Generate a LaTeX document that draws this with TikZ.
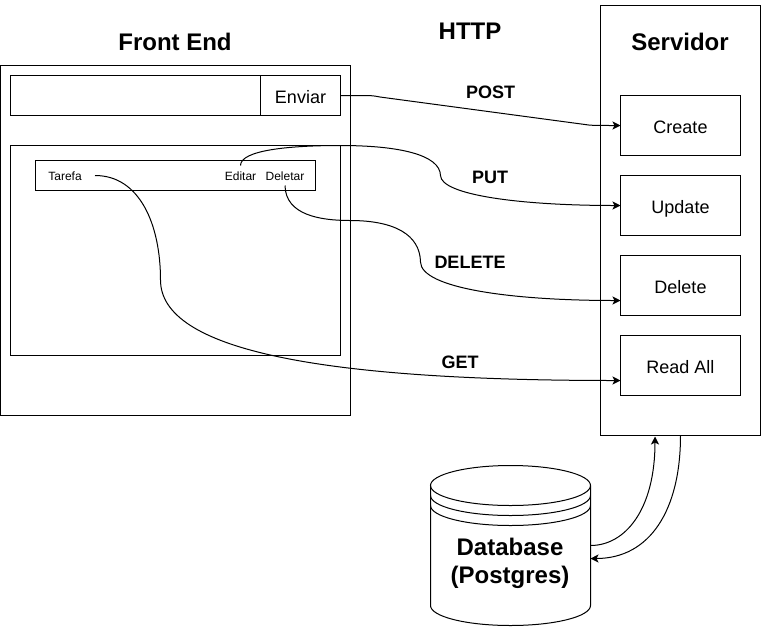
\documentclass[tikz,border=0pt]{standalone}
\usepackage{fontspec}
\setmainfont{Liberation Sans}
\usetikzlibrary{arrows.meta}
\tikzset{
  box/.style={draw=black,inner sep=0pt,outer sep=0pt},
  label13/.style={font=\fontsize{13.5}{16}\selectfont,text height=12pt,text depth=0pt},
  opbox/.style={box,label13,minimum width=90pt,minimum height=45pt},
  small/.style={inner sep=0pt,outer sep=0pt,minimum width=45pt,minimum height=15pt,text height=8pt,text depth=0pt,font=\fontsize{9}{11}\selectfont},
  title/.style={font=\bfseries\fontsize{18}{21}\selectfont,align=center},
  verb/.style={font=\bfseries\fontsize{13.5}{16}\selectfont},
  link/.style={-{Stealth[length=6pt,width=6pt,inset=1.5pt]},black}
}
\begin{document}
\begin{tikzpicture}[x=0.75pt,y=-0.75pt,line width=0.75pt]
\useasboundingbox (0,0) rectangle (761,626);
% front end
\node[box,minimum width=262.5pt,minimum height=262.5pt] (frontend) at (175.5,240.5) {};
\node[box,minimum width=187.5pt,minimum height=30pt] (input) at (135.5,95.5) {};
\node[box,label13,minimum width=60pt,minimum height=30pt] (enviar) at (300.5,95.5) {Enviar};
\node[box,minimum width=247.5pt,minimum height=157.5pt] (lista) at (175.5,250.5) {};
\node[box,minimum width=210pt,minimum height=22.5pt] (item) at (175.5,175.5) {};
\node[small] (tarefa) at (65,175.5) {Tarefa};
\node[small,minimum width=30pt] (editar) at (240.5,175.5) {Editar};
\node[small,minimum width=30pt] (deletar) at (285,175.5) {Deletar};
% servidor
\node[box,minimum width=120pt,minimum height=322.5pt] (servidor) at (680.5,220.5) {};
\node[opbox] (create) at (680.5,125.5) {Create};
\node[opbox] (update) at (680.5,205.5) {Update};
\node[opbox] (delete) at (680.5,285.5) {Delete};
\node[opbox] (read) at (680.5,365.5) {Read All};
% titles
\node[title] (tfront) at (175,41.5) {Front End};
\node[title] (thttp) at (470,31.5) {HTTP};
\node[title] (tserv) at (680,41.5) {Servidor};
\node[verb] (post) at (490.5,92) {POST};
\node[verb] (put) at (490,177) {PUT};
\node[verb] (del) at (470,262) {DELETE};
\node[verb] (get) at (460,362) {GET};
% database
\draw (510.5,485.5) ellipse [x radius=80,y radius=20];
\draw (430.5,485.5) -- (430.5,605.5) arc [start angle=180,end angle=0,x radius=80,y radius=20] -- (590.5,485.5);
\draw (430.5,495.5) arc [start angle=180,end angle=0,x radius=80,y radius=20];
\draw (430.5,505.5) arc [start angle=180,end angle=0,x radius=80,y radius=20];
\node[title] (database) at (510,563) {Database\\(Postgres)};
\coordinate (dbout) at (590.5,545.5);
\coordinate (dbin) at (590.5,558.5);
\coordinate (servin) at (655,436.5);
\coordinate (delin) at (620.5,300.5);
\coordinate (readin) at (620.5,380.5);
% connectors
\draw[link] (enviar.east) -- (365,95.5) .. controls (372,95.5) and (375,96) .. (380,97) -- (585,124.5) .. controls (590,125.3) and (592,125.5) .. (create.west);
\draw[link] (editar.north) .. controls (240.5,150) and (290,145.5) .. (340,145.5) .. controls (400,145.5) and (440,155) .. (440.5,175.5) .. controls (441,195) and (520,205.5) .. (update.west);
\draw[link] (deletar.south) .. controls (285.5,215) and (320,220.5) .. (350,220.5) .. controls (395,220.5) and (420,235) .. (420.5,262) .. controls (421,288) and (510,300.5) .. (delin);
\draw[link] (tarefa.east) .. controls (140,175.5) and (160.5,225) .. (160.5,280) .. controls (160.5,350) and (320,380.5) .. (readin);
\draw[link] (dbout) .. controls (625,545.5) and (655,510) .. (servin);
\draw[link] (servidor.south) .. controls (680.5,510) and (650,558.5) .. (dbin);
\end{tikzpicture}
\end{document}
